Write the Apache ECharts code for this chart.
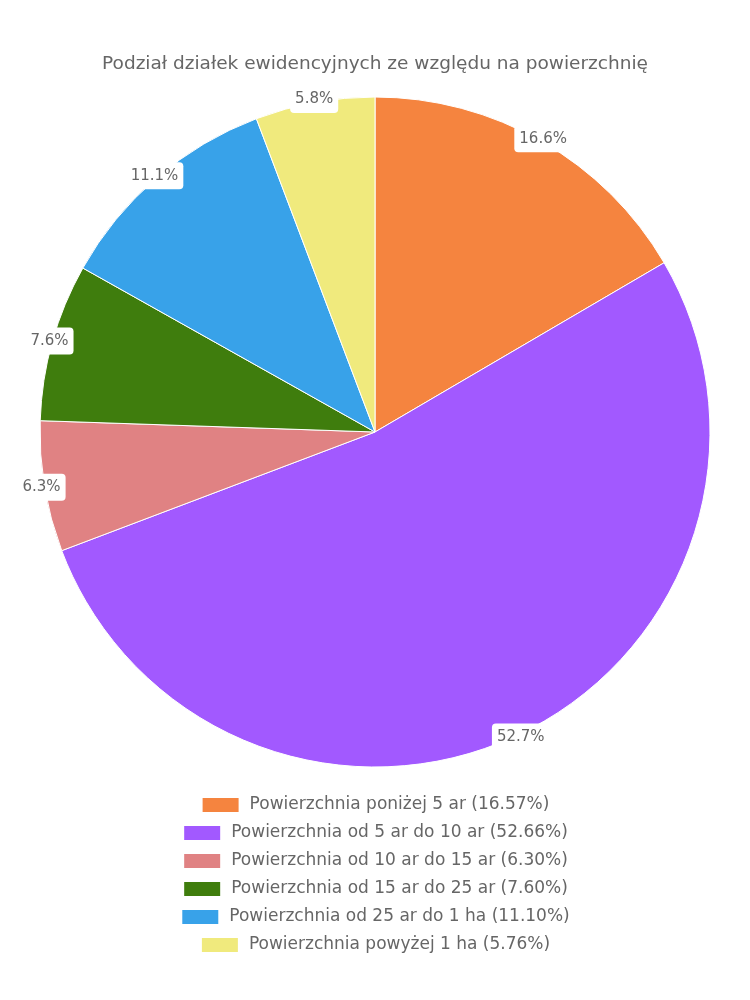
<!DOCTYPE html>
<html><head><meta charset="utf-8">
<script src="https://cdn.jsdelivr.net/npm/echarts@6/dist/echarts.min.js"></script>
<style>html,body{margin:0;padding:0;background:#fff}#c{width:750px;height:1000px}</style>
</head><body><div id="c"></div>
<script>
const titleText = 'Podział działek ewidencyjnych ze względu na powierzchnię';
const categories = [
  'Powierzchnia poniżej 5 ar',
  'Powierzchnia od 5 ar do 10 ar',
  'Powierzchnia od 10 ar do 15 ar',
  'Powierzchnia od 15 ar do 25 ar',
  'Powierzchnia od 25 ar do 1 ha',
  'Powierzchnia powyżej 1 ha'
];
const values = [16.57, 52.66, 6.30, 7.60, 11.10, 5.76];
const colors = ['#f5843f', '#a259ff', '#e08283', '#3f7d0d', '#38a2e9', '#f0ea7d'];

const FONT = 'DejaVu Sans';
const data = categories.map((n, i) => ({ name: n, value: values[i] }));
const pctMap = {};
categories.forEach((n, i) => pctMap[n] = values[i]);

const legends = categories.map((n, i) => ({
  data: [n],
  left: 'center',
  top: 791 + i * 28,
  itemWidth: 38,
  itemHeight: 16,
  itemGap: 0,
  icon: 'rect',
  textStyle: { color: '#666', fontSize: 17, fontFamily: FONT, padding: [0, 0, 0, 5] },
  formatter: name => name + ' (' + pctMap[name].toFixed(2) + '%)'
}));

const chart = echarts.init(document.getElementById('c'));
chart.setOption({
  animation: false,
  color: colors,
  title: {
    text: titleText, left: 'center', top: 50,
    textStyle: { color: '#666', fontSize: 18.5, fontWeight: 'normal', fontFamily: FONT }
  },
  legend: legends,
  series: [
    {
      type: 'pie', center: [375, 432], radius: [0, 335], startAngle: 90,
      data: data,
      itemStyle: { borderColor: '#fff', borderWidth: 1 },
      label: { show: false }, labelLine: { show: false }
    },
    {
      type: 'pie', center: [375, 432], radius: [334, 336], startAngle: 90,
      silent: true,
      data: data,
      itemStyle: { color: 'rgba(0,0,0,0)', borderWidth: 0 },
      label: {
        show: true, position: 'inside',
        formatter: p => p.value.toFixed(1) + '%',
        color: '#666', fontSize: 15, fontFamily: FONT,
        backgroundColor: '#fff', borderRadius: 4, padding: [7, 5, 5, 5]
      },
      labelLine: { show: false }
    }
  ]
});
</script></body></html>
